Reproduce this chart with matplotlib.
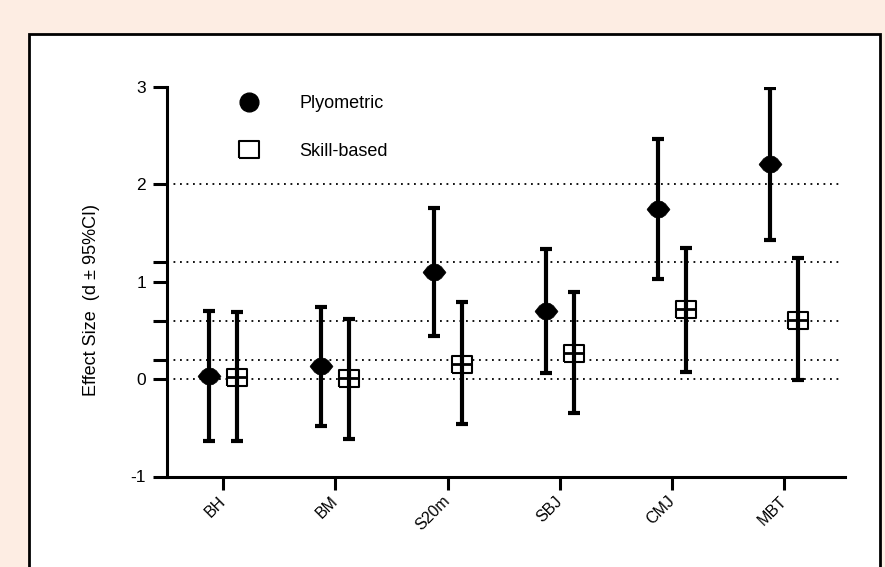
import numpy as np
import matplotlib.pyplot as plt
from matplotlib.lines import Line2D
from matplotlib.patches import Rectangle

# effect sizes (d) with 95% CI
categories = ['BH', 'BM', 'S20m', 'SBJ', 'CMJ', 'MBT']
plyo_d = [0.03, 0.13, 1.10, 0.70, 1.75, 2.21]
plyo_lo = [-0.64, -0.48, 0.44, 0.06, 1.03, 1.43]
plyo_hi = [0.70, 0.74, 1.76, 1.34, 2.47, 2.99]
skill_d = [0.02, 0.01, 0.16, 0.27, 0.72, 0.61]
skill_lo = [-0.64, -0.62, -0.46, -0.35, 0.07, -0.01]
skill_hi = [0.69, 0.62, 0.79, 0.89, 1.35, 1.24]

ref_lines = [0, 0.2, 0.6, 1.2, 2.0]
yticks = [-1, 0, 1, 2, 3]
ytick_labels = ['-1', '0', '1', '2', '3']
minor_yticks = [0.2, 0.6, 1.2]

plt.rcParams['font.family'] = ['Liberation Sans', 'DejaVu Sans']

W, H = 885, 567
fig = plt.figure(figsize=(W / 100, H / 100), dpi=100)
fig.patch.set_facecolor('#fdede3')
fig.patches.append(Rectangle((29 / W, -0.05), (880 - 29) / W, 1 - 34 / H + 0.05,
                             transform=fig.transFigure, facecolor='white',
                             edgecolor='black', lw=2, zorder=-5))

ax = fig.add_axes([167 / W, 1 - 476.5 / H, (845 - 167) / W, (476.5 - 87) / H])
ax.set_facecolor('none')

# marker shapes
plyo_marker = [(-1, 0), (-0.6, 0.5), (-0.3, 0.7), (0, 0.74), (0.3, 0.7), (0.6, 0.5),
               (1, 0), (0.6, -0.5), (0.3, -0.7), (0, -0.74), (-0.3, -0.7), (-0.6, -0.5), (-1, 0)]
skill_marker = [(-1, -0.85), (1, -0.85), (1, 0.85), (-1, 0.85), (-1, -0.85)]

x = np.arange(len(categories))
off = 0.125

for yv in ref_lines:
    ax.plot([-0.5, 5.5], [yv, yv], color='black', lw=1.3, linestyle=(0, (1, 2.6)), zorder=1)

pd_ = np.array(plyo_d)
sd_ = np.array(skill_d)
ax.errorbar(x - off, pd_, yerr=[pd_ - np.array(plyo_lo), np.array(plyo_hi) - pd_],
            fmt='none', ecolor='black', elinewidth=3, capsize=4.6, capthick=3, zorder=3)
ax.errorbar(x + off, sd_, yerr=[sd_ - np.array(skill_lo), np.array(skill_hi) - sd_],
            fmt='none', ecolor='black', elinewidth=3, capsize=4.6, capthick=3, zorder=3)

ax.plot(x + off, sd_, linestyle='none', marker=skill_marker, ms=14.4,
        mfc='white', mec='black', mew=1.5, zorder=2.5)
ax.plot(x + off, sd_, linestyle='none', marker='_', ms=15, mec='black', mew=2, zorder=3.5)
ax.plot(x - off, pd_, linestyle='none', marker=plyo_marker, ms=16.5,
        mfc='black', mec='black', mew=0.5, zorder=4)

ax.set_xlim(-0.5, 5.54)
ax.set_ylim(-1, 3)

ax.set_xticks(x, categories)
ax.set_yticks(yticks, ytick_labels)
ax.set_yticks(minor_yticks, minor=True)
ax.tick_params(axis='x', length=9, width=2.2, pad=7, labelsize=11.5)
ax.tick_params(axis='y', which='both', length=10, width=2.2, pad=5, labelsize=12.5)
for lab in ax.get_xticklabels():
    lab.set_rotation(45)
    lab.set_ha('right')
    lab.set_va('center')
    lab.set_rotation_mode('anchor')

for s in ['top', 'right']:
    ax.spines[s].set_visible(False)
for s in ['left', 'bottom']:
    ax.spines[s].set_linewidth(2.2)

ax.set_ylabel('Effect Size  (d ± 95%CI)', fontsize=13)
ax.yaxis.set_label_coords(-0.099, 0.453)

handles = [
    Line2D([], [], linestyle='none', marker='o', ms=13.5, mfc='black', mec='black'),
    Line2D([], [], linestyle='none', marker=skill_marker, ms=14.4, mfc='white', mec='black', mew=1.5),
]
ax.legend(handles, ['Plyometric', 'Skill-based'], loc='upper left', frameon=False,
          bbox_to_anchor=(240 / W, 1 - 95 / H), bbox_transform=fig.transFigure,
          fontsize=13, handlelength=1.0, handletextpad=2.3, labelspacing=1.69,
          borderpad=0, borderaxespad=0)

fig.savefig('out.png', dpi=100, facecolor=fig.get_facecolor())
